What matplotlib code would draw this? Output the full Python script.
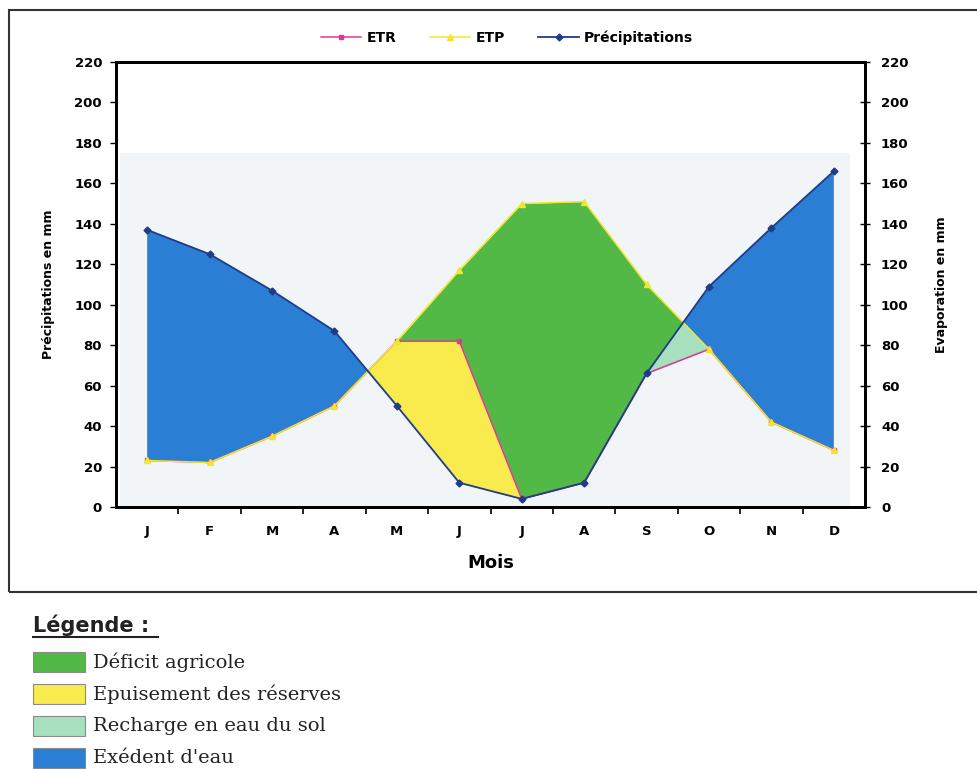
import numpy as np
import matplotlib.pyplot as plt
from matplotlib.patches import Rectangle
from matplotlib.lines import Line2D

months = ['J', 'F', 'M', 'A', 'M', 'J', 'J', 'A', 'S', 'O', 'N', 'D']
precip = np.array([137, 125, 107, 87, 50, 12, 4, 12, 66, 109, 138, 166])
etp = np.array([23, 22, 35, 50, 82, 117, 150, 151, 110, 78, 42, 28])
etr = np.array([23, 22, 35, 50, 82, 82, 4, 12, 66, 78, 42, 28])

legend_labels = ['Déficit agricole', 'Epuisement des réserves',
                 'Recharge en eau du sol', 'Exédent d\'eau']
c_deficit = '#52b946'
c_epuis = '#f9eb4e'
c_recharge = '#a6e0be'
c_excedent = '#2a7fd5'
legend_colors = [c_deficit, c_epuis, c_recharge, c_excedent]

plt.rcParams['font.family'] = ['DejaVu Sans']

x = np.arange(len(months))

fig = plt.figure(figsize=(9.77, 7.69), dpi=100)
ax = fig.add_axes([0.1187, 0.3407, 0.7667, 0.5787])

# pale panel behind the water balance
ax.axhspan(0, 175, xmin=0.005, xmax=0.98, color='#f1f5f8', zorder=0, lw=0)

# water balance areas
ax.fill_between(x[4:10], etr[4:10], etp[4:10], color=c_deficit, lw=0, zorder=1)
ax.fill_between(x[8:10], etr[8:10], precip[8:10], color=c_recharge, lw=0, zorder=2)
ax.fill_between(x, precip, etr, where=etr > precip, interpolate=True,
                color=c_epuis, lw=0, zorder=3)
ax.fill_between(x, etp, precip, where=precip > etp, interpolate=True,
                color=c_excedent, lw=0, zorder=3)

# curves
ax.plot(x, etr, color='#e0389a', lw=1.1, marker='s', ms=3.5, label='ETR', zorder=4)
ax.plot(x, etp, color='#f3e62c', lw=1.1, marker='^', ms=4.5, label='ETP', zorder=5)
ax.plot(x, precip, color='#1f3c88', lw=1.3, marker='D', ms=3.5,
        label='Précipitations', zorder=6)

ax.set_xlim(-0.5, 11.5)
ax.set_ylim(0, 220)
ax.set_yticks(range(0, 221, 20))
ax.set_xticks(x)
ax.set_xticklabels(months, fontsize=9.5, fontweight='bold')
ax.set_xticks(np.arange(0.5, 11, 1), minor=True)
ax.tick_params(axis='x', which='major', length=0, pad=13)
ax.tick_params(axis='x', which='minor', length=5, width=1.2, direction='out')
ax.tick_params(axis='y', length=4, width=1, direction='out', pad=6, labelsize=9.5)
for lbl in ax.get_yticklabels():
    lbl.set_fontweight('bold')
for s in ax.spines.values():
    s.set_linewidth(2)

ax.set_ylabel('Précipitations en mm', fontsize=9, fontweight='bold')
ax.yaxis.set_label_coords(-0.081, 0.5)
ax.set_xlabel('Mois', fontsize=13, fontweight='bold')
ax.xaxis.set_label_coords(0.5, -0.106)

ax2 = ax.twinx()
ax2.set_ylim(0, 220)
ax2.set_yticks(range(0, 221, 20))
ax2.tick_params(axis='y', length=7, width=1, direction='inout', pad=8, labelsize=9.5)
for lbl in ax2.get_yticklabels():
    lbl.set_fontweight('bold')
for s in ax2.spines.values():
    s.set_linewidth(2)
ax2.set_ylabel('Evaporation en mm', fontsize=9, fontweight='bold')
ax2.yaxis.set_label_coords(1.093, 0.5)

fig.legend(*ax.get_legend_handles_labels(), loc='center', ncol=3,
           bbox_to_anchor=(0.519, 0.9506), frameon=False, handlelength=2.9,
           columnspacing=2.4, handletextpad=0.4,
           prop={'weight': 'bold', 'size': 10})

# outer frame of the chart
fig.add_artist(Rectangle((9 / 977, 1 - 592 / 769), 1.2, (592 - 10) / 769,
                         transform=fig.transFigure, fill=False,
                         ec='#333333', lw=1.5))

# colour key below the chart
fig.text(33 / 977, 1 - 625 / 769, 'Légende :', fontsize=15, fontweight='bold',
         va='center', ha='left', color='#222222')
fig.add_artist(Line2D([33 / 977, 158 / 977], [1 - 637 / 769, 1 - 637 / 769],
                      transform=fig.transFigure, color='#222222', lw=1.5))
for i, (lab, col) in enumerate(zip(legend_labels, legend_colors)):
    top = 652 + 32 * i
    fig.add_artist(Rectangle((33 / 977, 1 - (top + 20) / 769), 52 / 977, 20 / 769,
                             transform=fig.transFigure, fc=col,
                             ec='#8a8a8a', lw=0.8))
    fig.text(93 / 977, 1 - (top + 10) / 769, lab, fontsize=14,
             family='DejaVu Serif', va='center', ha='left', color='#222222')

fig.savefig('out.png', dpi=100)
